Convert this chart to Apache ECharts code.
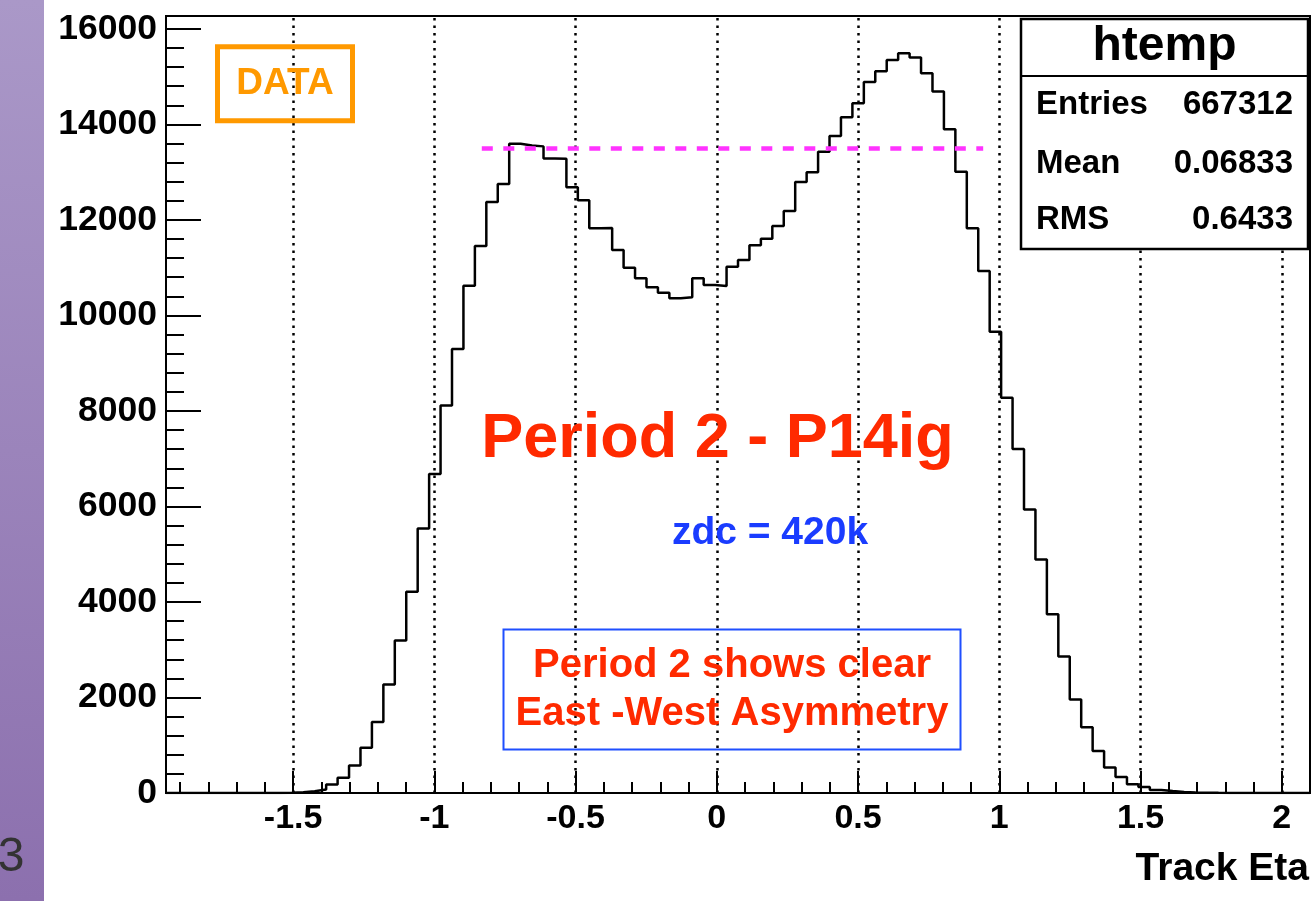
<!DOCTYPE html>
<html>
<head>
<meta charset="utf-8">
<script src="https://cdn.jsdelivr.net/npm/echarts@6/dist/echarts.min.js"></script>
<style>
html,body{margin:0;padding:0;background:#fff;}
#chart{width:1312px;height:901px;}
</style>
</head>
<body>
<div id="chart"></div>
<script>
// ---- data ----
const xMin = -1.95;
const xMax = 2.1;
const nBins = 100;
const yMax = 16270;
const counts = [
  0, 0, 0, 0, 0, 0, 0, 0, 0, 0,
  3, 15, 35, 72, 180, 320, 578, 950, 1486, 2270,
  3195, 4213, 5541, 6678, 8115, 9297, 10623, 11454, 12376, 12753,
  13597, 13560, 13540, 13285, 13280, 12684, 12410, 11825, 11830, 11370,
  11000, 10778, 10589, 10476, 10359, 10380, 10778, 10637, 10616, 11021,
  11161, 11469, 11607, 11873, 12187, 12795, 12998, 13430, 13758, 14150,
  14444, 14890, 15114, 15351, 15491, 15399, 15072, 14687, 13899, 13011,
  11825, 10930, 9659, 8276, 7202, 5938, 4891, 3745, 2858, 1958,
  1378, 881, 533, 337, 184, 128, 65, 40, 22, 12,
  6, 3, 1, 0, 0, 0, 0, 0, 0, 0
];
const xMajorTicks = [-1.5, -1, -0.5, 0, 0.5, 1, 1.5, 2];
const xMinorTicks = [-1.9, -1.8, -1.7, -1.6, -1.4, -1.3, -1.2, -1.1, -0.9, -0.8, -0.7, -0.6,
  -0.4, -0.3, -0.2, -0.1, 0.1, 0.2, 0.3, 0.4, 0.6, 0.7, 0.8, 0.9, 1.1, 1.2, 1.3, 1.4,
  1.6, 1.7, 1.8, 1.9, 2.1];
const yMajorTicks = [0, 2000, 4000, 6000, 8000, 10000, 12000, 14000, 16000];
const yMinorTicks = [400, 800, 1200, 1600, 2400, 2800, 3200, 3600, 4400, 4800, 5200, 5600,
  6400, 6800, 7200, 7600, 8400, 8800, 9200, 9600, 10400, 10800, 11200, 11600,
  12400, 12800, 13200, 13600, 14400, 14800, 15200, 15600];
const refLevel = 13500;
const refFrom = -0.832;
const refTo = 0.943;
const statsRows = [["Entries", "667312"], ["Mean", "0.06833"], ["RMS", "0.6433"]];
const histName = "htemp";
const xTitle = "Track Eta";

// ---- build ----
const binW = (xMax - xMin) / nBins;
const histPoints = counts.map((c, k) => [xMin + k * binW, c]);
histPoints.push([xMax, counts[nBins - 1]]);

const FONT = '"Liberation Sans", Arial, Helvetica, sans-serif';
const chart = echarts.init(document.getElementById('chart'), null, {renderer: 'canvas'});

function txt(text, x, y, size, color, align, weight) {
  return {
    type: 'text', z: 100,
    style: {
      text: text, x: x, y: y,
      font: (weight || 'bold') + ' ' + size + 'px ' + FONT,
      fill: color,
      align: align || 'center', verticalAlign: 'middle',
      textAlign: align || 'center', textVerticalAlign: 'middle'
    }
  };
}

const option = {
  animation: false,
  backgroundColor: '#fff',
  grid: {
    left: 166, top: 16, right: 2, bottom: 108,
    show: true, borderColor: '#000', borderWidth: 2, backgroundColor: 'transparent'
  },
  xAxis: [
    {
      type: 'value', min: xMin, max: xMax, position: 'bottom',
      axisLine: {show: true, onZero: false, lineStyle: {color: '#000', width: 2}},
      axisTick: {show: true, inside: true, length: 22, customValues: xMajorTicks, lineStyle: {color: '#000', width: 2}},
      axisLabel: {show: true, customValues: xMajorTicks, formatter: v => String(v), color: '#000', fontSize: 34, fontWeight: 'bold', fontFamily: FONT, margin: 9},
      splitLine: {show: false}
    },
    {
      type: 'value', min: xMin, max: xMax, position: 'bottom',
      axisLine: {show: false, onZero: false},
      axisTick: {show: true, inside: true, length: 11, customValues: xMinorTicks, lineStyle: {color: '#000', width: 2}},
      axisLabel: {show: false},
      splitLine: {show: false}
    }
  ],
  yAxis: [
    {
      type: 'value', min: 0, max: yMax, position: 'left',
      axisLine: {show: true, onZero: false, lineStyle: {color: '#000', width: 2}},
      axisTick: {show: true, inside: true, length: 35, customValues: yMajorTicks, lineStyle: {color: '#000', width: 2}},
      axisLabel: {show: true, customValues: yMajorTicks, formatter: v => String(v), color: '#000', fontSize: 35.5, fontWeight: 'bold', fontFamily: FONT, margin: 9},
      splitLine: {show: false}
    },
    {
      type: 'value', min: 0, max: yMax, position: 'left',
      axisLine: {show: false, onZero: false},
      axisTick: {show: true, inside: true, length: 18, customValues: yMinorTicks, lineStyle: {color: '#000', width: 2}},
      axisLabel: {show: false},
      splitLine: {show: false}
    }
  ],
  series: [
    {
      name: 'grid', type: 'line', data: [], xAxisIndex: 0, yAxisIndex: 0, z: 1,
      markLine: {
        silent: true, symbol: 'none', animation: false,
        label: {show: false},
        lineStyle: {color: '#000', width: 2.5, type: [2.5, 5]},
        data: xMajorTicks.map(v => ({xAxis: v}))
      }
    },
    {
      name: histName, type: 'line', step: 'end', data: histPoints,
      xAxisIndex: 0, yAxisIndex: 0, z: 3,
      showSymbol: false, symbol: 'none',
      lineStyle: {color: '#000', width: 2.5}
    },
    {
      name: 'ref', type: 'line', data: [], xAxisIndex: 0, yAxisIndex: 0, z: 4,
      markLine: {
        silent: true, symbol: 'none', animation: false,
        label: {show: false},
        lineStyle: {color: '#ff33ff', width: 4.5, type: [11, 10.5]},
        data: [[{coord: [refFrom, refLevel]}, {coord: [refTo, refLevel]}]]
      }
    }
  ],
  graphic: [
    {
      type: 'rect', z: 100,
      shape: {x: 0, y: 0, width: 44, height: 901},
      style: {fill: new echarts.graphic.LinearGradient(0, 0, 0, 1, [
        {offset: 0, color: '#aa98c8'}, {offset: 1, color: '#8c70ae'}])}
    },
    txt('3', 11, 858, 48, '#333', 'center', '300'),
    {
      type: 'rect', z: 100,
      shape: {x: 217.5, y: 46.8, width: 135, height: 74},
      style: {fill: 'none', stroke: '#ff9900', lineWidth: 5}
    },
    txt('DATA', 285, 84, 37, '#ff9900'),
    {
      type: 'rect', z: 100,
      shape: {x: 1021, y: 19, width: 287, height: 230},
      style: {fill: '#fff', stroke: '#000', lineWidth: 2.5}
    },
    {
      type: 'line', z: 101,
      shape: {x1: 1021, y1: 76, x2: 1308, y2: 76},
      style: {stroke: '#000', lineWidth: 2}
    },
    txt(histName, 1164.5, 46.5, 48, '#000'),
    txt(statsRows[0][0], 1036, 105, 33, '#000', 'left'),
    txt(statsRows[0][1], 1293, 105, 33, '#000', 'right'),
    txt(statsRows[1][0], 1036, 163.5, 33, '#000', 'left'),
    txt(statsRows[1][1], 1293, 163.5, 33, '#000', 'right'),
    txt(statsRows[2][0], 1036, 220, 33, '#000', 'left'),
    txt(statsRows[2][1], 1293, 220, 33, '#000', 'right'),
    txt('Period 2 - P14ig', 717.5, 439.5, 63, '#ff2a00'),
    txt('zdc = 420k', 770, 533.5, 39, '#1a3cff'),
    {
      type: 'rect', z: 100,
      shape: {x: 503.5, y: 629.5, width: 457, height: 120},
      style: {fill: 'none', stroke: '#1f4fff', lineWidth: 2}
    },
    txt('Period 2 shows clear', 732, 666, 40, '#ff2a00'),
    txt('East -West Asymmetry', 732, 713.5, 40, '#ff2a00'),
    txt(xTitle, 1309, 869.5, 39, '#000', 'right')
  ]
};
chart.setOption(option);
</script>
</body>
</html>
